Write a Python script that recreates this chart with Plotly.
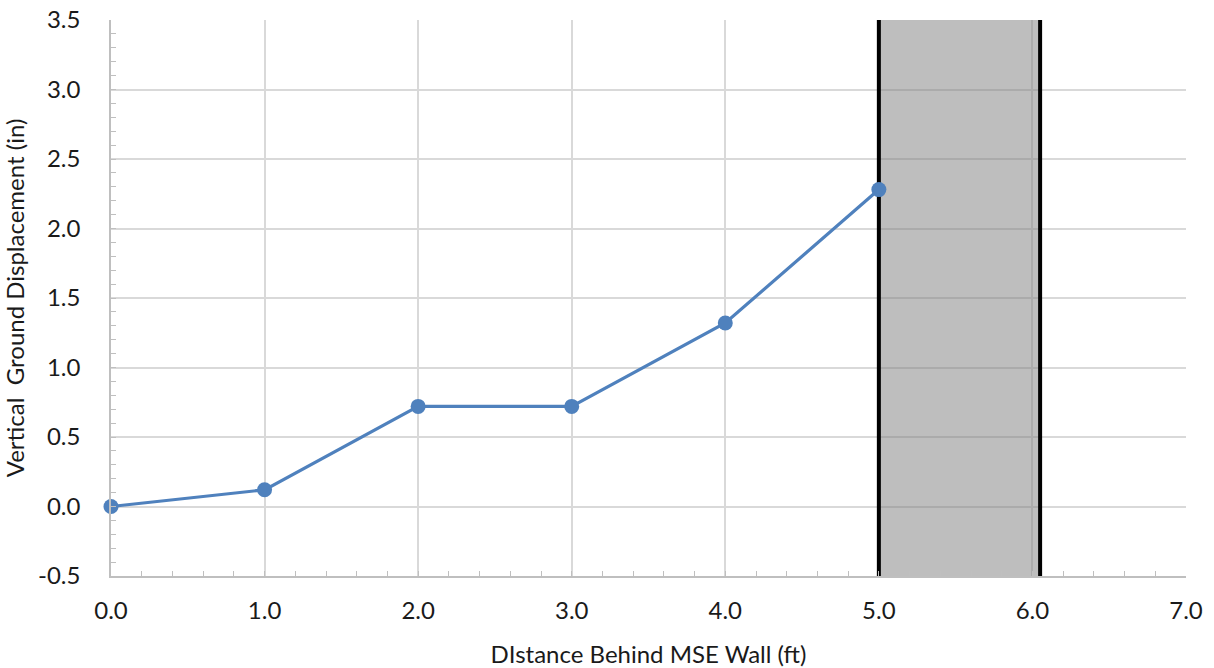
import plotly.graph_objects as go

distance_ft = [0.0, 1.0, 2.0, 3.0, 4.0, 5.0]
displacement_in = [0.0, 0.12, 0.72, 0.72, 1.32, 2.28]
band_start = 5.0
band_end = 6.05
x_range = [0.0, 7.0]
y_range = [-0.5, 3.5]
x_tick_vals = [0.0, 1.0, 2.0, 3.0, 4.0, 5.0, 6.0, 7.0]
y_tick_vals = [-0.5, 0.0, 0.5, 1.0, 1.5, 2.0, 2.5, 3.0, 3.5]
x_tick_text = [f"{v:.1f}" for v in x_tick_vals]
y_tick_text = [f"{v:.1f}" for v in y_tick_vals]

FONT = "Lato, 'Noto Sans', sans-serif"
AXIS_COLOR = "#bfbfbf"
GRID_COLOR = "#d9d9d9"

fig = go.Figure()
fig.add_trace(go.Scatter(
    x=distance_ft, y=displacement_in, mode="lines+markers",
    line=dict(color="#4f81bd", width=3.2),
    marker=dict(color="#4f81bd", size=15),
    showlegend=False, cliponaxis=False,
))

fig.add_shape(type="rect", xref="x", yref="y", x0=band_start, x1=band_end,
              y0=y_range[0], y1=y_range[1], fillcolor="rgba(125,125,125,0.5)",
              line=dict(width=0), layer="between")
for xv in (band_start, band_end):
    fig.add_shape(type="line", xref="x", yref="y", x0=xv, x1=xv,
                  y0=y_range[0], y1=y_range[1],
                  line=dict(color="black", width=4), layer="between")

fig.update_layout(
    width=1214, height=668,
    margin=dict(l=111, r=28, t=20, b=92),
    paper_bgcolor="white", plot_bgcolor="white",
    font=dict(family=FONT, size=24, color="#1a1a1a"),
)
fig.update_xaxes(
    range=x_range, tickmode="array", tickvals=x_tick_vals, ticktext=x_tick_text,
    showgrid=True, gridcolor=GRID_COLOR, gridwidth=1.5,
    showline=True, linecolor=AXIS_COLOR, linewidth=1.5,
    ticks="inside", ticklen=5, tickcolor=AXIS_COLOR,
    minor=dict(dtick=0.2, tick0=0, ticks="inside", ticklen=5, tickcolor=AXIS_COLOR, showgrid=False),
    zeroline=False, ticklabelstandoff=12, automargin=False,
    title=dict(text="DIstance Behind MSE Wall (ft)", font=dict(size=24), standoff=24),
)
fig.update_yaxes(
    range=y_range, tickmode="array", tickvals=y_tick_vals, ticktext=y_tick_text,
    showgrid=True, gridcolor=GRID_COLOR, gridwidth=1.5,
    showline=True, linecolor=AXIS_COLOR, linewidth=1.5,
    ticks="inside", ticklen=5, tickcolor=AXIS_COLOR,
    minor=dict(dtick=0.1, tick0=0, ticks="inside", ticklen=5, tickcolor=AXIS_COLOR, showgrid=False),
    zeroline=False, ticklabelstandoff=24, automargin=False,
    title=dict(text="Vertical  Ground Displacement (in)", font=dict(size=24), standoff=8),
)

fig.write_html("out.html", config={"displayModeBar": False},
               post_script="document.body.style.margin='0';")
